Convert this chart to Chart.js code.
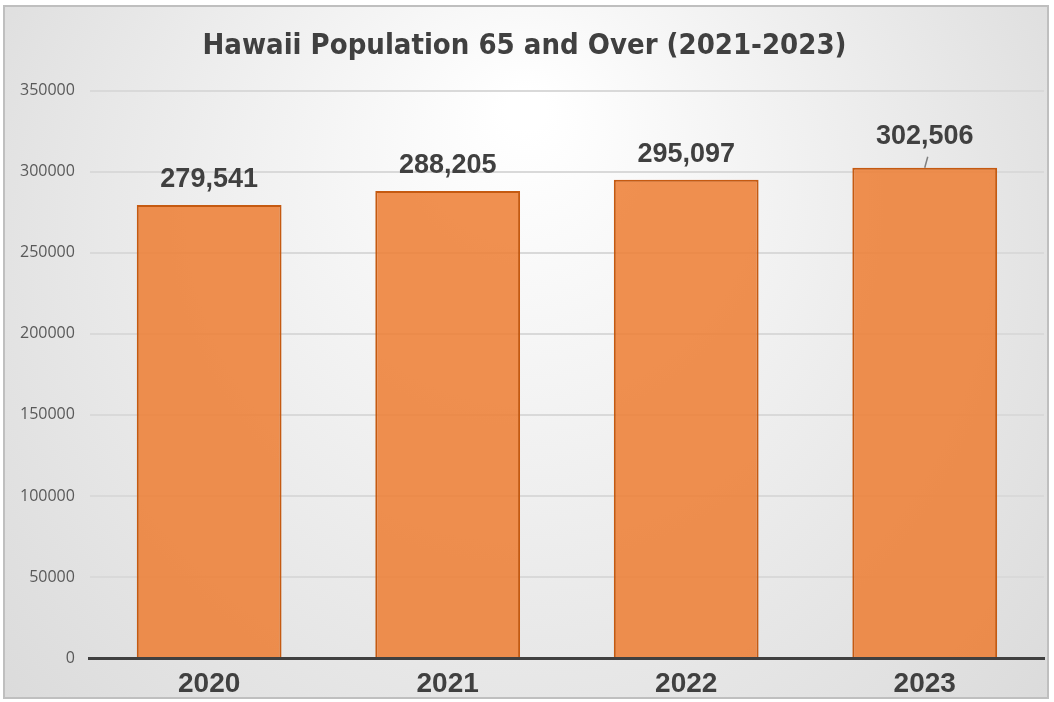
<!DOCTYPE html>
<html>
<head>
<meta charset="utf-8">
<script src="https://cdn.jsdelivr.net/npm/chart.js@4.4.1/dist/chart.umd.min.js"></script>
<style>
  html, body { margin: 0; padding: 0; background: #fff; }
  #wrap { position: absolute; left: 3px; top: 5px; width: 1046px; height: 694px; border: 2px solid #bfbfbf; box-sizing: border-box; }
  #chart { display: block; }
</style>
</head>
<body>
<div id="wrap"><canvas id="chart" width="1042" height="690"></canvas></div>
<script>
// ── Data ──
const years = ['2020', '2021', '2022', '2023'];
const population = [279541, 288205, 295097, 302506];
const yTicks = [0, 50000, 100000, 150000, 200000, 250000, 300000, 350000];
const labelLift = [0, 0, 0, 6]; // 2023 label sits higher with a leader line

const arialBold = '"Liberation Sans", Arial, sans-serif';

// radial background like the spreadsheet chart area
const bgPlugin = {
  id: 'bg',
  beforeDraw(chart) {
    const { ctx, width, height } = chart;
    const g = ctx.createRadialGradient(width * 0.5, height * 0.15, 20, width * 0.5, height * 0.45, width * 0.72);
    g.addColorStop(0, '#ffffff');
    g.addColorStop(1, '#d6d6d6');
    ctx.save();
    ctx.fillStyle = g;
    ctx.fillRect(0, 0, width, height);
    ctx.restore();
  }
};

// value labels above bars
const labelPlugin = {
  id: 'vals',
  afterDatasetsDraw(chart) {
    const { ctx } = chart;
    const meta = chart.getDatasetMeta(0);
    ctx.save();
    ctx.font = 'bold 27px ' + arialBold;
    ctx.fillStyle = '#404040';
    ctx.textAlign = 'center';
    ctx.textBaseline = 'middle';
    meta.data.forEach((bar, i) => {
      const lift = labelLift[i];
      const y = bar.y - 25 - lift;
      ctx.fillText(population[i].toLocaleString('en-US'), bar.x, y);
      if (lift) {
        ctx.strokeStyle = '#7f7f7f';
        ctx.lineWidth = 1.5;
        ctx.beginPath();
        ctx.moveTo(bar.x + 3, bar.y - 11);
        ctx.lineTo(bar.x, bar.y);
        ctx.stroke();
      }
    });
    ctx.restore();
  }
};

new Chart(document.getElementById('chart'), {
  type: 'bar',
  data: {
    labels: years,
    datasets: [{
      data: population,
      backgroundColor: 'rgba(237,125,49,0.85)',
      borderColor: '#c55a11',
      borderWidth: 2,
      barPercentage: 0.607,
      categoryPercentage: 1
    }]
  },
  options: {
    responsive: false,
    animation: false,
    devicePixelRatio: 1,
    layout: { padding: { left: 0, right: 3, top: 22, bottom: 1 } },
    plugins: {
      legend: { display: false },
      tooltip: { enabled: false },
      title: {
        display: true,
        text: 'Hawaii Population 65 and Over (2021-2023)',
        color: '#404040',
        font: { family: '"DejaVu Sans Condensed", "Open Sans", sans-serif', size: 29, weight: 'bold' },
        padding: { top: 0, bottom: 27 }
      }
    },
    scales: {
      x: {
        afterFit(axis) { axis.height = 38; },
        grid: { display: false, drawTicks: false },
        border: { color: '#404040', width: 3 },
        ticks: { color: '#404040', font: { family: arialBold, size: 28, weight: 'bold', lineHeight: 1 }, padding: 12, maxRotation: 0, minRotation: 0, autoSkip: false }
      },
      y: {
        min: 0, max: 350000,
        afterBuildTicks(axis) { axis.ticks = yTicks.map(v => ({ value: v })); },
        grid: { color: '#d9d9d9', lineWidth: 2, drawTicks: false },
        border: { display: false },
        ticks: { color: '#595959', font: { family: '"Open Sans", sans-serif', size: 16 }, padding: 15, callback: v => String(v) }
      }
    }
  },
  plugins: [bgPlugin, labelPlugin]
});
</script>
</body>
</html>
